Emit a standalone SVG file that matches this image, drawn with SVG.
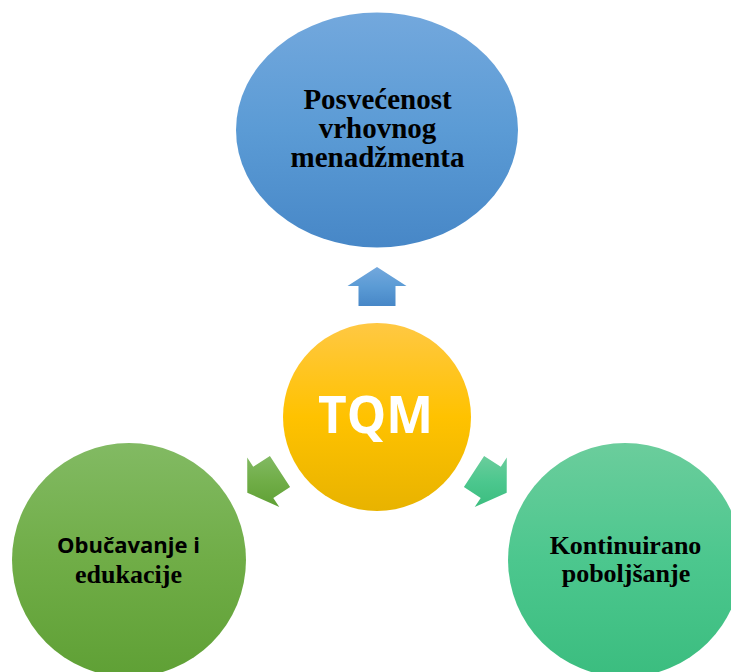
<svg xmlns="http://www.w3.org/2000/svg" width="731" height="672" viewBox="0 0 731 672">
  <defs>
    <linearGradient id="gBlue" x1="0" y1="0" x2="0" y2="1">
      <stop offset="0" stop-color="#73a8dd"/>
      <stop offset="0.5" stop-color="#5b9bd5"/>
      <stop offset="1" stop-color="#4787c7"/>
    </linearGradient>
    <linearGradient id="gGold" x1="0" y1="0" x2="0" y2="1">
      <stop offset="0" stop-color="#ffc843"/>
      <stop offset="0.5" stop-color="#ffc200"/>
      <stop offset="1" stop-color="#e8b300"/>
    </linearGradient>
    <linearGradient id="gGreen" x1="0" y1="0" x2="0" y2="1">
      <stop offset="0" stop-color="#82ba63"/>
      <stop offset="0.5" stop-color="#70ad47"/>
      <stop offset="1" stop-color="#5fa035"/>
    </linearGradient>
    <linearGradient id="gMint" x1="0" y1="0" x2="0" y2="1">
      <stop offset="0" stop-color="#6bcd9c"/>
      <stop offset="0.5" stop-color="#4cc78e"/>
      <stop offset="1" stop-color="#3bbd7f"/>
    </linearGradient>
    <style>
      .serif { font-family: "Liberation Serif", "Times New Roman", serif; font-weight: bold; fill: #000; text-anchor: middle; }
      .sans { font-family: "Open Sans", "Liberation Sans", sans-serif; font-weight: bold; text-anchor: middle; }
    </style>
  </defs>
  <rect width="731" height="672" fill="#ffffff"/>

  <g id="connectors">
    <polygon id="arrow-top" fill="url(#gBlue)" points="377,267 406.5,286 395.5,286 395.5,306 358.5,306 358.5,286 347.5,286"/>
    <polygon id="arrow-left" fill="url(#gGreen)" points="247.3,492.7 247.2,457.6 253.2,466.8 269.9,455.9 290.1,487.0 273.3,497.9 279.3,507.1"/>
    <polygon id="arrow-right" fill="url(#gMint)" points="506.7,492.7 506.8,457.6 500.8,466.8 484.1,455.9 463.9,487.0 480.7,497.9 474.7,507.1"/>
  </g>

  <g id="node-top">
    <ellipse cx="377" cy="130" rx="141" ry="117.5" fill="url(#gBlue)"/>
    <text class="serif" font-size="29" x="377.5" y="109">Posvećenost</text>
    <text class="serif" font-size="29" x="377.5" y="138">vrhovnog</text>
    <text class="serif" font-size="29" x="377.5" y="167">menadžmenta</text>
  </g>

  <g id="node-tqm">
    <circle cx="377" cy="417" r="94" fill="url(#gGold)"/>
    <text class="sans" font-size="52" x="375.5" y="433" fill="#ffffff" textLength="115" lengthAdjust="spacingAndGlyphs">TQM</text>
  </g>

  <g id="node-left">
    <circle cx="129" cy="560" r="117" fill="url(#gGreen)"/>
    <text class="sans" font-size="22" x="128.5" y="553" fill="#000000" textLength="143" lengthAdjust="spacingAndGlyphs">Obučavanje i</text>
    <text class="serif" font-size="26" x="128.5" y="583">edukacije</text>
  </g>

  <g id="node-right">
    <circle cx="625" cy="560" r="117" fill="url(#gMint)"/>
    <text class="serif" font-size="26" x="625.5" y="554">Kontinuirano</text>
    <text class="serif" font-size="26" x="626" y="582">poboljšanje</text>
  </g>
</svg>
